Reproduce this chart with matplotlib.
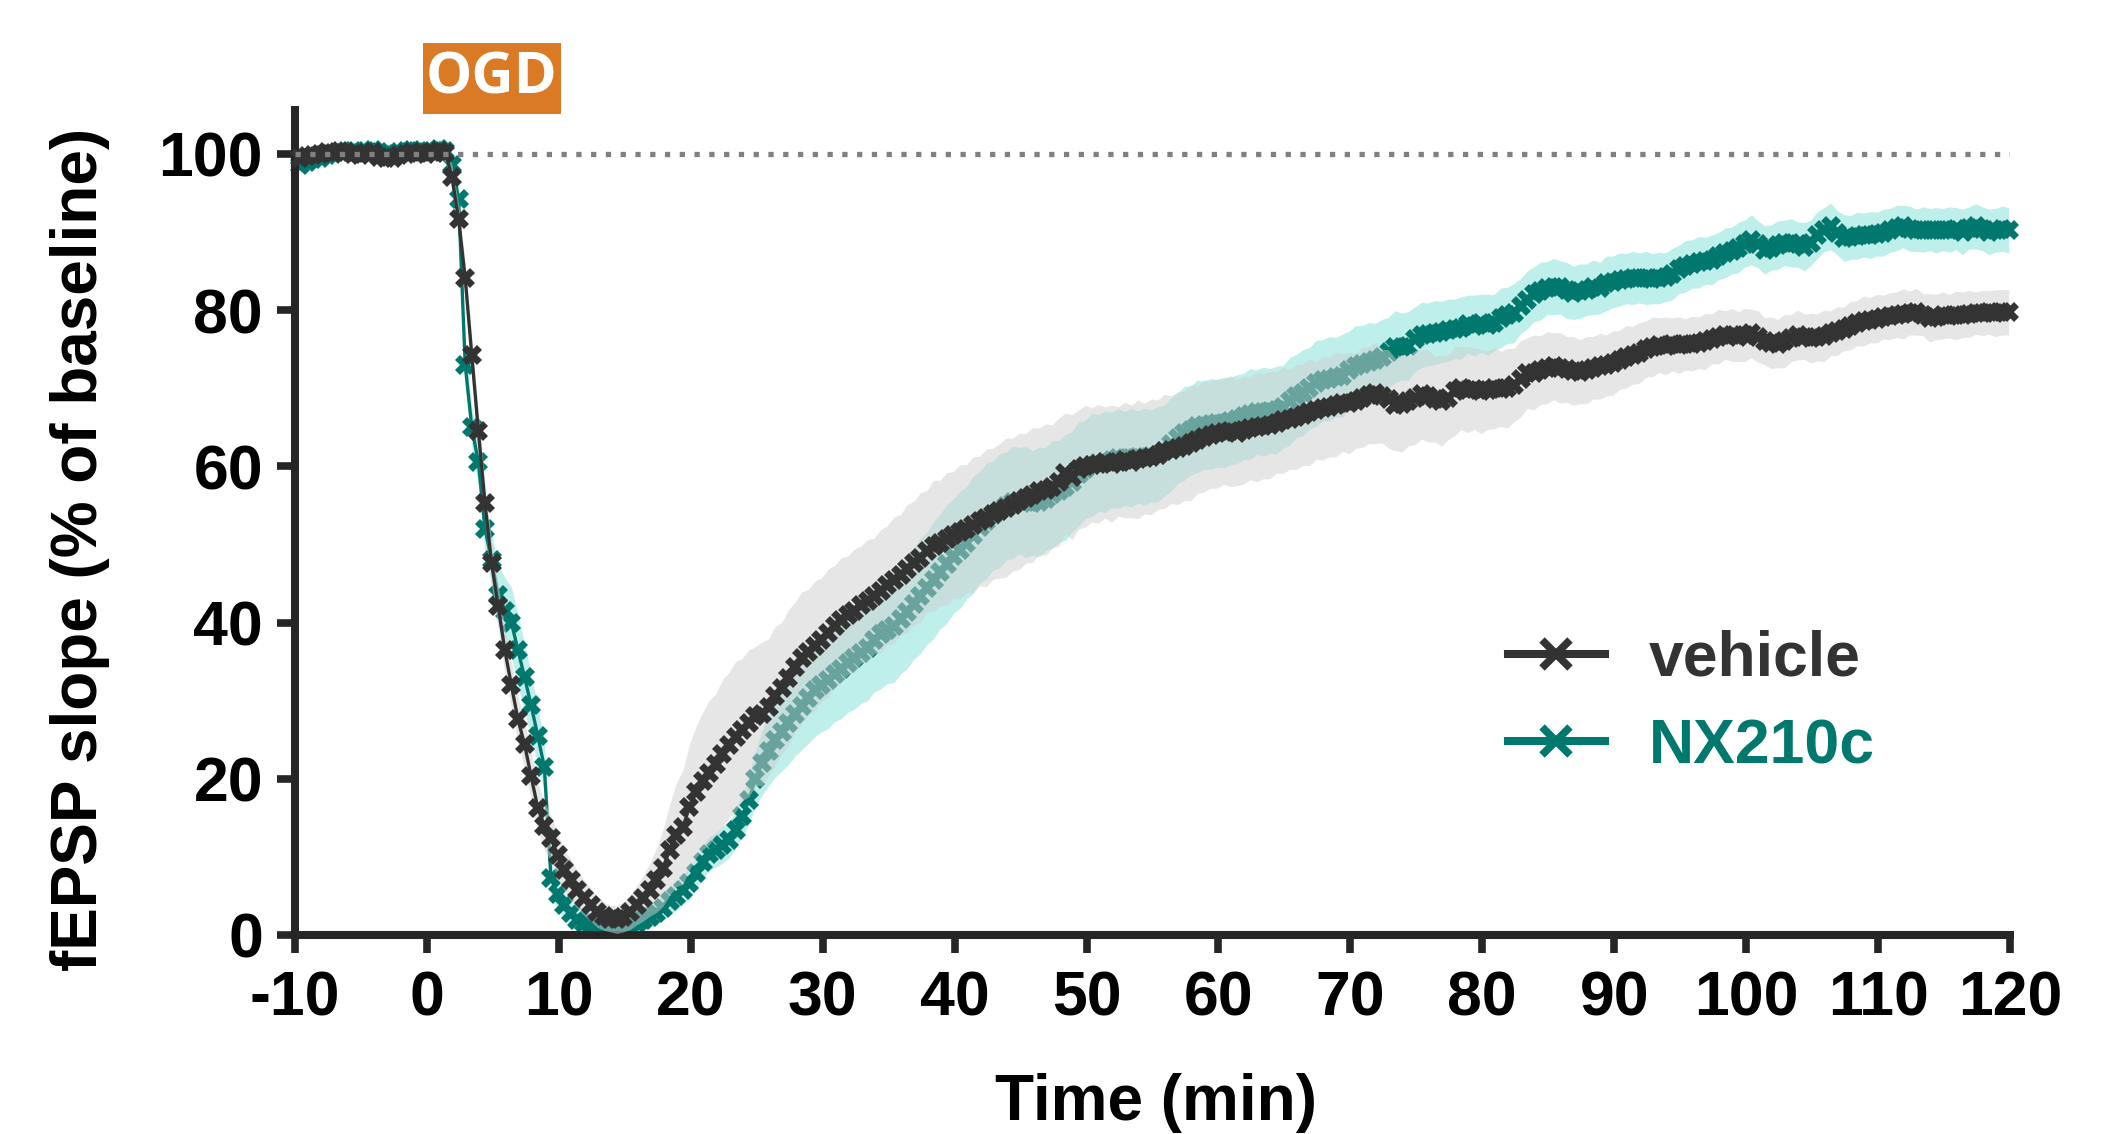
import matplotlib
matplotlib.use("Agg")
import matplotlib.pyplot as plt
from matplotlib.lines import Line2D
from matplotlib.patches import Rectangle
import numpy as np

plt.rcParams['font.family'] = ['Liberation Sans', 'DejaVu Sans']
plt.rcParams['font.weight'] = 'bold'
plt.rcParams['axes.unicode_minus'] = False

# sweeps every 30 s, first one at -9.6 min
time_min = np.arange(260) * 0.5 - 9.6

vehicle_mean = [
    99.4, 99.7, 99.8, 100.0, 100.2, 100.1, 100.3, 100.2, 100.0, 99.9, 100.1, 100.2, 99.6, 99.4, 99.5, 99.8, 100.0, 100.2, 100.1,
    100.0, 100.2, 100.3, 100.1, 97.0, 91.6, 84.1, 74.2, 64.5, 55.3, 47.6, 42.1, 36.5, 32.0, 27.6, 24.4, 20.3, 16.3, 14.0, 12.4,
    10.2, 8.3, 7.1, 5.8, 4.8, 3.9, 3.0, 2.4, 2.1, 2.0, 2.3, 2.9, 3.8, 4.7, 5.8, 7.0, 8.6, 10.9, 12.8, 13.8,
    16.4, 18.3, 19.7, 20.8, 21.9, 23.2, 24.3, 25.4, 26.3, 27.1, 28.0, 28.3, 29.2, 30.6, 31.6, 32.9, 34.3, 35.4, 36.2, 37.0,
    37.8, 38.6, 39.5, 40.3, 40.9, 41.5, 42.3, 42.8, 43.4, 44.0, 44.8, 45.4, 46.1, 46.9, 47.6, 48.3, 49.1, 49.8, 50.2, 50.7,
    51.2, 51.6, 52.0, 52.5, 53.0, 53.4, 53.9, 54.3, 54.7, 55.1, 55.5, 55.9, 56.3, 56.8, 57.0, 57.4, 58.0, 59.1, 58.6, 59.6,
    60.0, 60.2, 60.3, 60.5, 60.3, 60.6, 60.8, 60.6, 60.9, 61.0, 61.2, 61.5, 61.9, 62.1, 62.3, 62.6, 63.0, 63.4, 63.8, 64.0,
    64.2, 64.4, 64.5, 64.3, 64.6, 64.9, 65.0, 65.1, 65.3, 65.6, 65.9, 66.0, 66.3, 66.6, 66.9, 67.2, 67.4, 67.6, 67.9, 68.1,
    68.1, 68.4, 68.8, 69.1, 69.4, 69.0, 68.6, 67.9, 68.0, 68.4, 68.8, 69.2, 69.0, 68.6, 68.4, 68.8, 69.6, 70.0, 69.8, 69.9,
    69.6, 69.7, 70.0, 69.9, 70.0, 70.4, 71.2, 71.9, 72.0, 72.3, 72.6, 72.8, 72.6, 72.4, 72.2, 72.1, 72.3, 72.6, 72.8, 72.9,
    73.2, 73.6, 74.0, 74.2, 74.5, 75.0, 75.3, 75.5, 75.4, 75.6, 75.5, 75.6, 75.7, 75.8, 76.0, 76.3, 76.6, 76.8, 76.8, 76.6,
    76.8, 77.0, 76.6, 76.0, 75.8, 75.7, 76.0, 76.4, 76.8, 76.6, 76.4, 76.5, 76.7, 77.0, 77.3, 77.6, 78.0, 78.3, 78.6, 78.7,
    78.9, 79.1, 79.2, 79.4, 79.5, 79.6, 79.8, 79.4, 79.0, 79.1, 79.3, 79.2, 79.3, 79.4, 79.5, 79.6, 79.6, 79.7, 79.6, 79.7,
    79.7,
]
vehicle_sem = [
    0.7, 0.6, 0.7, 0.5, 0.6, 0.5, 0.4, 0.6, 0.5, 0.5, 0.6, 0.5, 0.8, 0.7, 0.6, 0.5, 0.6, 0.5, 0.6,
    0.6, 0.7, 0.9, 1.1, 1.6, 1.9, 2.1, 2.3, 2.5, 2.6, 2.8, 2.7, 2.9, 3.0, 2.9, 3.1, 3.0, 3.2, 3.1, 2.9,
    2.9, 2.6, 2.7, 2.4, 2.3, 2.1, 2.0, 1.8, 1.7, 1.8, 1.9, 2.2, 2.5, 2.9, 3.4, 4.1, 4.9, 5.8, 6.6, 7.3,
    8.0, 8.4, 8.8, 9.2, 9.0, 9.5, 9.3, 9.6, 9.1, 9.4, 8.9, 9.2, 8.7, 8.9, 8.4, 8.7, 8.3, 8.5, 8.0, 8.3,
    7.9, 8.2, 7.8, 8.0, 7.6, 7.9, 7.5, 7.8, 7.4, 7.9, 7.6, 8.1, 7.7, 8.2, 7.9, 8.3, 7.8, 8.4, 8.0, 8.5,
    8.1, 8.6, 8.2, 8.7, 8.3, 8.8, 8.4, 8.6, 8.9, 8.5, 8.7, 8.3, 8.6, 8.1, 8.4, 7.9, 8.2, 7.7, 8.0, 7.6,
    7.8, 7.3, 7.6, 7.1, 7.5, 7.0, 7.4, 7.2, 7.6, 7.1, 7.4, 7.0, 7.3, 6.9, 7.2, 7.0, 7.4, 6.9, 7.1, 6.8,
    7.0, 6.7, 7.1, 6.8, 6.9, 6.6, 7.0, 6.7, 6.9, 6.5, 6.8, 6.4, 6.7, 6.5, 6.8, 6.3, 6.6, 6.4, 6.7, 6.2,
    6.5, 6.1, 6.4, 6.2, 6.5, 6.0, 6.3, 5.9, 6.2, 5.8, 6.0, 5.7, 5.9, 5.5, 5.8, 5.4, 5.7, 5.3, 5.5, 5.2,
    5.4, 5.0, 5.2, 4.8, 5.1, 4.7, 4.9, 4.5, 4.8, 4.4, 4.6, 4.3, 4.5, 4.2, 4.4, 4.1, 4.3, 4.0, 4.2, 3.9,
    4.1, 3.8, 4.0, 3.7, 3.9, 3.6, 3.8, 3.5, 3.7, 3.4, 3.6, 3.3, 3.5, 3.3, 3.6, 3.2, 3.5, 3.1, 3.4, 3.2,
    3.4, 3.1, 3.3, 3.0, 3.3, 3.1, 3.4, 3.0, 3.2, 2.9, 3.2, 3.0, 3.3, 2.9, 3.1, 2.8, 3.1, 2.9, 3.2, 2.9,
    3.1, 2.8, 3.0, 2.9, 3.2, 2.8, 3.0, 2.7, 3.1, 2.9, 3.0, 2.8, 3.1, 2.9, 3.0, 2.7, 2.9, 2.8, 3.0, 2.9,
    2.9,
]

nx210c_mean = [
    98.6, 99.0, 99.3, 99.5, 99.8, 100.0, 100.2, 100.4, 100.3, 100.1, 100.3, 100.5, 100.2, 100.0, 99.9, 100.2, 100.4, 100.5, 100.3,
    100.2, 100.4, 100.6, 100.3, 98.6, 94.2, 73.0, 65.0, 60.5, 52.0, 48.0, 43.5, 41.5, 40.0, 36.5, 33.0, 29.4, 25.5, 21.5, 7.3,
    5.2, 3.8, 2.8, 1.9, 1.6, 1.4, 1.1, 1.0, 1.0, 1.0, 1.2, 1.4, 1.6, 1.9, 2.3, 2.8, 3.5, 4.3, 5.0, 5.8,
    6.6, 7.9, 9.3, 10.4, 10.9, 11.5, 12.2, 13.5, 15.2, 17.3, 20.0, 22.0, 23.6, 25.0, 26.0, 27.1, 28.3, 29.3, 30.3, 31.3,
    32.0, 32.6, 33.4, 34.1, 34.8, 35.5, 36.1, 36.8, 37.8, 38.5, 39.1, 39.5, 40.4, 41.4, 42.4, 43.4, 44.4, 45.4, 46.5, 47.5,
    48.5, 49.3, 50.2, 51.2, 52.2, 53.0, 53.7, 54.3, 54.9, 55.4, 55.6, 55.4, 55.3, 55.4, 55.8, 56.4, 56.8, 57.3, 58.0, 59.0,
    59.6, 60.2, 60.4, 60.6, 60.8, 61.0, 61.0, 61.1, 61.2, 61.2, 61.3, 61.5, 62.0, 62.8, 63.6, 64.2, 64.6, 65.1, 65.3, 65.4,
    65.5, 65.6, 65.8, 66.0, 66.4, 66.7, 66.9, 67.0, 67.1, 67.2, 67.6, 68.3, 69.0, 69.4, 70.0, 70.6, 71.0, 71.2, 71.4, 71.6,
    72.3, 72.8, 73.1, 73.4, 73.6, 74.0, 74.6, 75.3, 75.3, 75.4, 76.3, 76.8, 76.9, 77.1, 77.2, 77.4, 77.6, 77.7, 78.2, 78.0,
    78.3, 78.1, 78.4, 79.0, 79.3, 79.6, 80.5, 81.3, 82.0, 82.4, 82.8, 83.0, 82.9, 82.5, 82.2, 82.4, 82.6, 82.9, 82.8, 83.4,
    83.6, 83.9, 84.0, 84.1, 84.1, 84.1, 84.0, 84.1, 84.2, 84.6, 85.2, 85.6, 85.9, 86.1, 86.3, 86.4, 86.9, 87.3, 87.6, 88.0,
    88.5, 89.0, 88.4, 87.7, 88.0, 88.3, 88.6, 88.6, 88.4, 88.1, 88.6, 89.6, 90.3, 90.7, 89.9, 89.2, 89.3, 89.5, 89.6, 89.6,
    89.7, 89.9, 90.2, 90.5, 90.7, 90.4, 90.2, 90.3, 90.3, 90.2, 90.3, 90.3, 90.4, 90.0, 90.5, 90.7, 90.4, 90.0, 90.2, 90.4,
    90.2,
]
nx210c_sem = [
    0.9, 0.8, 0.7, 0.6, 0.6, 0.5, 0.6, 0.5, 0.6, 0.5, 0.5, 0.6, 0.5, 0.5, 0.6, 0.5, 0.6, 0.7, 0.8,
    0.9, 1.0, 1.2, 1.3, 1.5, 1.9, 2.3, 2.6, 2.9, 3.1, 3.4, 3.9, 4.3, 4.5, 4.6, 4.4, 4.1, 3.7, 3.1, 2.1,
    1.8, 1.6, 1.5, 1.4, 1.3, 1.2, 1.1, 1.0, 1.0, 1.0, 1.1, 1.1, 1.2, 1.3, 1.4, 1.5, 1.6, 1.7, 1.8, 1.9,
    2.0, 2.1, 2.1, 2.2, 2.2, 2.3, 2.3, 2.4, 2.7, 3.1, 3.6, 4.1, 4.5, 4.8, 5.0, 5.3, 5.4, 5.6, 5.8, 5.9,
    6.0, 6.2, 6.1, 6.4, 6.3, 6.6, 6.5, 6.8, 6.7, 7.0, 6.9, 7.2, 7.0, 7.3, 7.1, 7.4, 7.2, 7.5, 7.3, 7.6,
    7.3, 7.5, 7.2, 7.5, 7.1, 7.4, 7.0, 7.3, 6.9, 7.2, 6.8, 7.1, 6.7, 7.0, 6.6, 6.9, 6.5, 6.8, 6.4, 6.7,
    6.3, 6.6, 6.2, 6.5, 6.1, 6.4, 6.0, 6.3, 5.9, 6.2, 5.9, 6.1, 5.8, 6.0, 5.8, 6.0, 5.7, 5.9, 5.7, 5.8,
    5.6, 5.8, 5.6, 5.7, 5.5, 5.8, 5.4, 5.7, 5.4, 5.6, 5.3, 5.6, 5.3, 5.5, 5.2, 5.5, 5.2, 5.4, 5.1, 5.3,
    5.0, 5.2, 4.9, 5.0, 4.7, 4.8, 4.5, 4.6, 4.3, 4.4, 4.1, 4.2, 4.0, 4.1, 3.9, 4.0, 3.8, 4.0, 3.7, 3.9,
    3.7, 3.9, 3.6, 3.8, 3.6, 3.8, 3.5, 3.7, 3.5, 3.7, 3.4, 3.6, 3.4, 3.6, 3.4, 3.5, 3.3, 3.5, 3.3, 3.5,
    3.3, 3.4, 3.2, 3.4, 3.2, 3.4, 3.2, 3.3, 3.1, 3.3, 3.1, 3.3, 3.1, 3.3, 3.0, 3.2, 3.0, 3.2, 3.0, 3.2,
    3.0, 3.2, 3.0, 3.1, 2.9, 3.1, 2.9, 3.1, 2.9, 3.1, 2.9, 3.0, 2.8, 3.0, 2.8, 3.0, 2.8, 3.0, 2.8, 3.0,
    2.8, 3.0, 2.8, 2.9, 2.7, 2.9, 2.7, 2.9, 2.7, 2.9, 2.7, 2.9, 2.7, 2.9, 2.7, 2.9, 2.8, 2.9, 2.8, 2.9,
    2.9,
]

x_ticks = [-10, 0, 10, 20, 30, 40, 50, 60, 70, 80, 90, 100, 110, 120]
y_ticks = [0, 20, 40, 60, 80, 100]

VEH = '#333333'
NX = '#00786E'
AXC = '#262626'

veh_m = np.array(vehicle_mean)
veh_s = np.array(vehicle_sem)
nx_m = np.array(nx210c_mean)
nx_s = np.array(nx210c_sem)

fig = plt.figure(figsize=(21.01, 11.34), dpi=100)
ax = fig.add_axes([295 / 2101, 1 - 935 / 1134, 1715 / 2101, 825 / 1134])

# NX210c first, then vehicle band (semi transparent) over it
ax.fill_between(time_min, nx_m - nx_s, nx_m + nx_s, color='#BFEFEB', lw=0, zorder=1)
ax.plot(time_min, nx_m, color=NX, lw=2.4, marker='X', ms=14, mew=0, zorder=2, clip_on=False)
ax.fill_between(time_min, veh_m - veh_s, veh_m + veh_s, color='#CECECE', alpha=0.51, lw=0, zorder=3)
ax.plot(time_min, veh_m, color=VEH, lw=2.4, marker='X', ms=14, mew=0, zorder=4, clip_on=False)

ax.axhline(100, color='#808080', lw=3.8, dashes=(1, 1.8), zorder=5)

ax.set_xlim(-10, 120)
ax.set_ylim(0, 105.6)
ax.set_xticks(x_ticks)
ax.set_yticks(y_ticks)
ax.tick_params(axis='both', length=13, width=5.5, color=AXC, labelsize=45, labelcolor='black')
ax.tick_params(axis='x', pad=12)
ax.tick_params(axis='y', pad=10)
for lab in ax.get_xticklabels() + ax.get_yticklabels():
    lab.set_fontweight('bold')
for side in ['top', 'right']:
    ax.spines[side].set_visible(False)
for side in ['left', 'bottom']:
    ax.spines[side].set_linewidth(5.8)
    ax.spines[side].set_color(AXC)

fig.text(1156 / 2101, 1 - 1103 / 1134, 'Time (min)', ha='center', va='center',
         fontsize=46, fontweight='bold')
fig.text(80 / 2101, 1 - 549 / 1134, 'fEPSP slope (% of baseline)', ha='center', va='center',
         rotation=90, fontsize=46, fontweight='bold')

# OGD bar above the plot
ax.add_patch(Rectangle((-0.3, 105.1), 10.5, 9.1, facecolor='#DB7A24', edgecolor='none',
                       clip_on=False, zorder=6))
ax.text(4.93, 109.65, 'OGD', ha='center', va='center', color='white', fontsize=42,
        fontweight='bold', family=['Open Sans', 'DejaVu Sans'], clip_on=False, zorder=7)

handles = [
    Line2D([], [], color=VEH, lw=5.8, marker='x', ms=20, mew=5.5, label='vehicle'),
    Line2D([], [], color=NX, lw=5.8, marker='x', ms=20, mew=5.5, label='NX210c'),
]
ax.legend(handles=handles, loc='center left', bbox_to_anchor=(1508 / 2101, 1 - 703 / 1134),
          bbox_transform=fig.transFigure, frameon=False, handlelength=1.55,
          handletextpad=0.7, labelspacing=0.45, borderpad=0, borderaxespad=0,
          labelcolor='linecolor', prop={'weight': 'bold', 'size': 45})

fig.savefig('out.png', dpi=100)
